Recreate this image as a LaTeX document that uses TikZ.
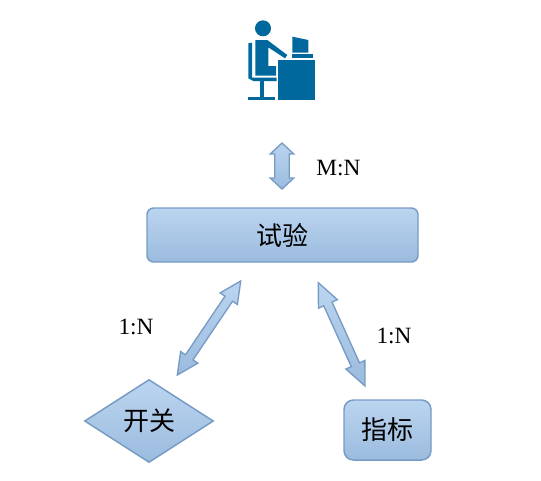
\documentclass[tikz,border=0pt]{standalone}
\usepackage{fontspec}
\setmainfont{Liberation Serif}
\newfontfamily\cjk{Noto Sans CJK SC}
\usetikzlibrary{positioning,calc,shapes.geometric}
\definecolor{boxtop}{RGB}{187,213,240}
\definecolor{boxbot}{RGB}{155,187,222}
\definecolor{boxline}{RGB}{118,155,196}
\definecolor{iconblue}{RGB}{0,104,157}
\tikzset{
  blk/.style   ={draw=boxline, top color=boxtop, bottom color=boxbot, line width=1.1pt,
                 rounded corners=5pt, align=center, font=\fontsize{19.5}{22}\cjk, inner sep=0pt},
  dmd/.style   ={blk, diamond, rounded corners=0pt, aspect=1.55},
  lbl/.style   ={font=\fontsize{17.5}{20}\selectfont, inner sep=0pt},
  dbl/.style   ={draw=boxline, top color=boxtop, bottom color=boxbot, line width=1pt, line join=miter},
  icn/.style   ={fill=iconblue, draw=none},
}
% block arrow: tip, tip, shaft half width, head half width, head length
\newcommand{\dblarrow}[5]{
  \path[dbl] (#1)
    -- ($(#1)!#5!(#2)!#4!90:(#2)$) -- ($(#1)!#5!(#2)!#3!90:(#2)$)
    -- ($(#2)!#5!(#1)!#3!-90:(#1)$) -- ($(#2)!#5!(#1)!#4!-90:(#1)$)
    -- (#2)
    -- ($(#2)!#5!(#1)!#4!90:(#1)$) -- ($(#2)!#5!(#1)!#3!90:(#1)$)
    -- ($(#1)!#5!(#2)!#3!-90:(#2)$) -- ($(#1)!#5!(#2)!#4!-90:(#2)$)
    -- cycle;
}

\begin{document}
\begin{tikzpicture}[x=0.75pt,y=-0.75pt]
\useasboundingbox (0,0) rectangle (541,480);

% person at desk
\begin{scope}[shift={(230,10)},x=0.25pt,y=-0.25pt]
\fill[icn] (99,55) circle (24);
\fill[icn] (76,90) -- (112,90) -- (172,135) -- (165,145) -- (115,112) -- (115,168)
   -- (138,168) -- (138,197) -- (76,197) -- cycle;
\fill[icn] (55,100) -- (66,98) -- (66,203) -- (140,203) -- (140,213) -- (70,213) -- (55,205) -- cycle;
\fill[icn] (90,213) rectangle (101,260);
\fill[icn] (55,260) rectangle (135,270);
\fill[icn] (145,150) rectangle (255,270);
\fill[icn] (187,80) -- (235,90) -- (235,128) -- (187,128) -- cycle;
\fill[icn] (187,133) rectangle (248,143);
\end{scope}

% boxes
\node[blk,minimum width=203.25pt,minimum height=40.5pt] (trial) at (282.5,235) {试验};
\node[dmd,minimum width=96.75pt,minimum height=62.25pt] (switch) at (149,421) {\raisebox{-1.5pt}{开关}};
\node[blk,rounded corners=7pt,minimum width=65.25pt,minimum height=45pt] (metric) at (387.5,430) {\raisebox{1pt}{指标}};

% arrows
\coordinate (topa) at (282,143);   \coordinate (topb) at (282,189);
\coordinate (lefta) at (240.7,281); \coordinate (leftb) at (177.3,375);
\coordinate (righta) at (318.3,282.7); \coordinate (rightb) at (365,386);
\dblarrow{topa}{topb}{5.4pt}{8.8pt}{8.2pt}
\dblarrow{lefta}{leftb}{3.4pt}{7.8pt}{16pt}
\dblarrow{righta}{rightb}{3.4pt}{7.8pt}{17.5pt}

% ratios
\node[lbl] (mn) at (338.5,168) {M:N};
\node[lbl] (leftn) at (136,327) {1:N};
\node[lbl] (rightn) at (394,336) {1:N};
\end{tikzpicture}
\end{document}
